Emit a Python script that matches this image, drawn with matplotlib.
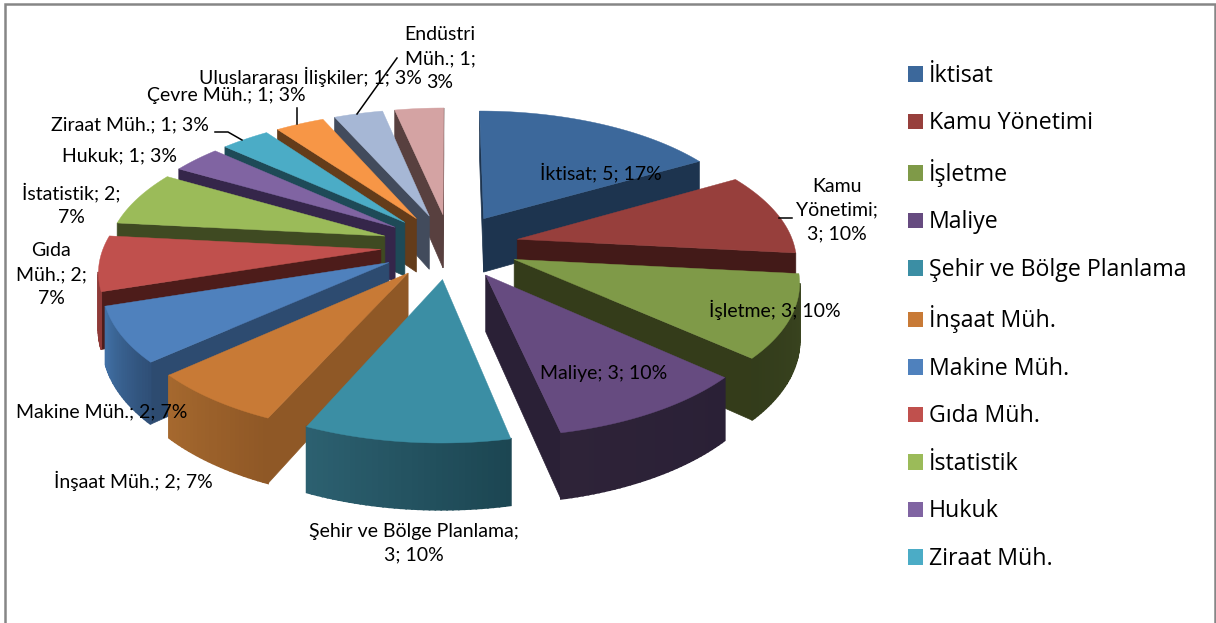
#!/usr/bin/env python3
"""
Exploded 3D style pie chart of departments, drawn with flat patches
"""
import numpy as np
import matplotlib
matplotlib.use('Agg')
import matplotlib.pyplot as plt
from matplotlib.colors import to_rgb
from matplotlib.patches import Patch

plt.rcParams['font.family'] = ['Lato', 'DejaVu Sans']

# data
names = ['İktisat', 'Kamu Yönetimi', 'İşletme', 'Maliye', 'Şehir ve Bölge Planlama',
         'İnşaat Müh.', 'Makine Müh.', 'Gıda Müh.', 'İstatistik', 'Hukuk',
         'Ziraat Müh.', 'Çevre Müh.', 'Uluslararası İlişkiler', 'Endüstri Müh.']
values = [5, 3, 3, 3, 3, 2, 2, 2, 2, 1, 1, 1, 1, 1]
percents = [17, 10, 10, 10, 10, 7, 7, 7, 7, 3, 3, 3, 3, 3]
legend_count = 11  # the legend is cut off after Ziraat

# colours
top_colors = ['#3c689b', '#973f3c', '#7f9a48', '#664b80', '#3b8ea4', '#c87a36', '#4f81bd',
              '#c0504d', '#9bbb59', '#8064a2', '#4bacc6', '#f79646', '#a6b7d5', '#d4a3a3']
wall_colors = ['#1d344f', '#431a18', '#343c1a', '#2a2036', '#1e4a57', '#8f5826', '#2d4b70',
               '#4d1c1a', '#3f4a22', '#35264a', '#1e4a57', '#643c1a', '#424b5c', '#58403f']
rim_start = ['#1d344f', '#431a18', '#3a4520', '#2a2036', '#1c4652', '#8f5826', '#2f4f77',
             '#8f3a38', '#3f4a22', '#35264a', '#1e4a57', '#643c1a', '#424b5c', '#58403f']
rim_end = ['#1d344f', '#431a18', '#333c1b', '#2e2338', '#2c6070', '#a5682e', '#4170a5',
           '#8f3a38', '#3f4a22', '#35264a', '#1e4a57', '#643c1a', '#424b5c', '#58403f']

# projection settings, in pixels of the picture
cx, cy = 450, 246
rx, ry = 277, 130
persp = 0.141
explode = 0.25
depth = 55


def project(u, v, z=0.0):
    s = 1 / (1 + persp * v)
    return cx + rx * u * s, cy - ry * v * s + z * depth * s


def front_facing(pts):
    x, y = np.array(pts).T
    return np.sum(x * np.roll(y, -1) - np.roll(x, -1) * y) < 0


def draw_slice(ax, t0, t1, top, wall, c0, c1):
    mid = (t0 + t1) / 2
    ou, ov = explode * np.sin(mid), explode * np.cos(mid)
    ts = np.linspace(t0, t1, max(int(np.degrees(t1 - t0)), 4) + 1)
    us = ou + np.sin(ts)
    vs = ov + np.cos(ts)

    # radial walls
    for a, b in [((ou, ov), (us[0], vs[0])), ((us[-1], vs[-1]), (ou, ov))]:
        quad = [project(*a), project(*b), project(*b, 1), project(*a, 1)]
        if front_facing(quad):
            ax.fill(*zip(*quad), color=wall, lw=0.5)

    # outer rim, split up for the colour gradient
    c0, c1 = np.array(to_rgb(c0)), np.array(to_rgb(c1))
    for i in range(len(ts) - 1):
        quad = [project(us[i], vs[i]), project(us[i + 1], vs[i + 1]),
                project(us[i + 1], vs[i + 1], 1), project(us[i], vs[i], 1)]
        if front_facing(quad):
            f = i / (len(ts) - 2)
            ax.fill(*zip(*quad), color=c0 + (c1 - c0) * f, lw=1.2)

    # top face
    px, py = project(np.r_[ou, us], np.r_[ov, vs])
    ax.fill(px, py, color=top, lw=0.3)


fig = plt.figure(figsize=(12.16, 6.23), dpi=100)
ax = fig.add_axes([0, 0, 1, 1])
ax.set_xlim(0, 1216)
ax.set_ylim(623, 0)
ax.axis('off')

# outer border, the bottom edge is cut off
ax.plot([5, 5, 1215, 1215], [623, 4, 4, 623], color='#868686', lw=1.8, solid_joinstyle='miter')

# slices, far ones first
edges = np.radians(np.r_[0, np.cumsum(values)] / sum(values) * 360)
order = sorted(range(len(values)), key=lambda i: -np.cos((edges[i] + edges[i + 1]) / 2))
for i in order:
    draw_slice(ax, edges[i], edges[i + 1], top_colors[i], wall_colors[i], rim_start[i], rim_end[i])

# data labels
label_texts = ['İktisat; 5; 17%', 'Kamu\nYönetimi;\n3; 10%', 'İşletme; 3; 10%', 'Maliye; 3; 10%',
               'Şehir ve Bölge Planlama;\n3; 10%', 'İnşaat Müh.; 2; 7%', 'Makine Müh.; 2; 7%',
               'Gıda\nMüh.; 2;\n7%', 'İstatistik; 2;\n7%', 'Hukuk; 1; 3%', 'Ziraat Müh.; 1; 3%',
               'Çevre Müh.; 1; 3%', 'Uluslararası İlişkiler; 1; 3%', 'Endüstri\nMüh.; 1;\n3%']
label_x = [601, 837, 775, 604, 414, 133, 102, 51, 71, 120, 130, 226, 310, 440]
label_y = [172, 210, 310, 373, 543, 481, 412, 275, 204, 156, 125, 96, 77, 59]
for txt, x, y in zip(label_texts, label_x, label_y):
    ax.text(x, y, txt, ha='center', va='center', fontsize=14, color='black',
            linespacing=1.5, zorder=10)

# leader lines
leader_x = [[779, 792], [215, 228, 242], [297, 297], [397, 357]]
leader_y = [[218, 218], [132, 132, 140], [108, 124], [58, 114]]
for lx, ly in zip(leader_x, leader_y):
    ax.plot(lx, ly, color='black', lw=1.1, zorder=9)

# legend
handles = [Patch(facecolor=top_colors[i], edgecolor='none', label=names[i]) for i in range(legend_count)]
ax.legend(handles=handles, loc='upper left', bbox_to_anchor=(908 / 1216, 1 - 64 / 623),
          frameon=False, prop={'family': 'Open Sans', 'size': 16.7}, labelspacing=1.013,
          handlelength=0.65, handleheight=0.65, handletextpad=0.26, borderpad=0, borderaxespad=0)

plt.savefig('out.png', dpi=100)
plt.close()
